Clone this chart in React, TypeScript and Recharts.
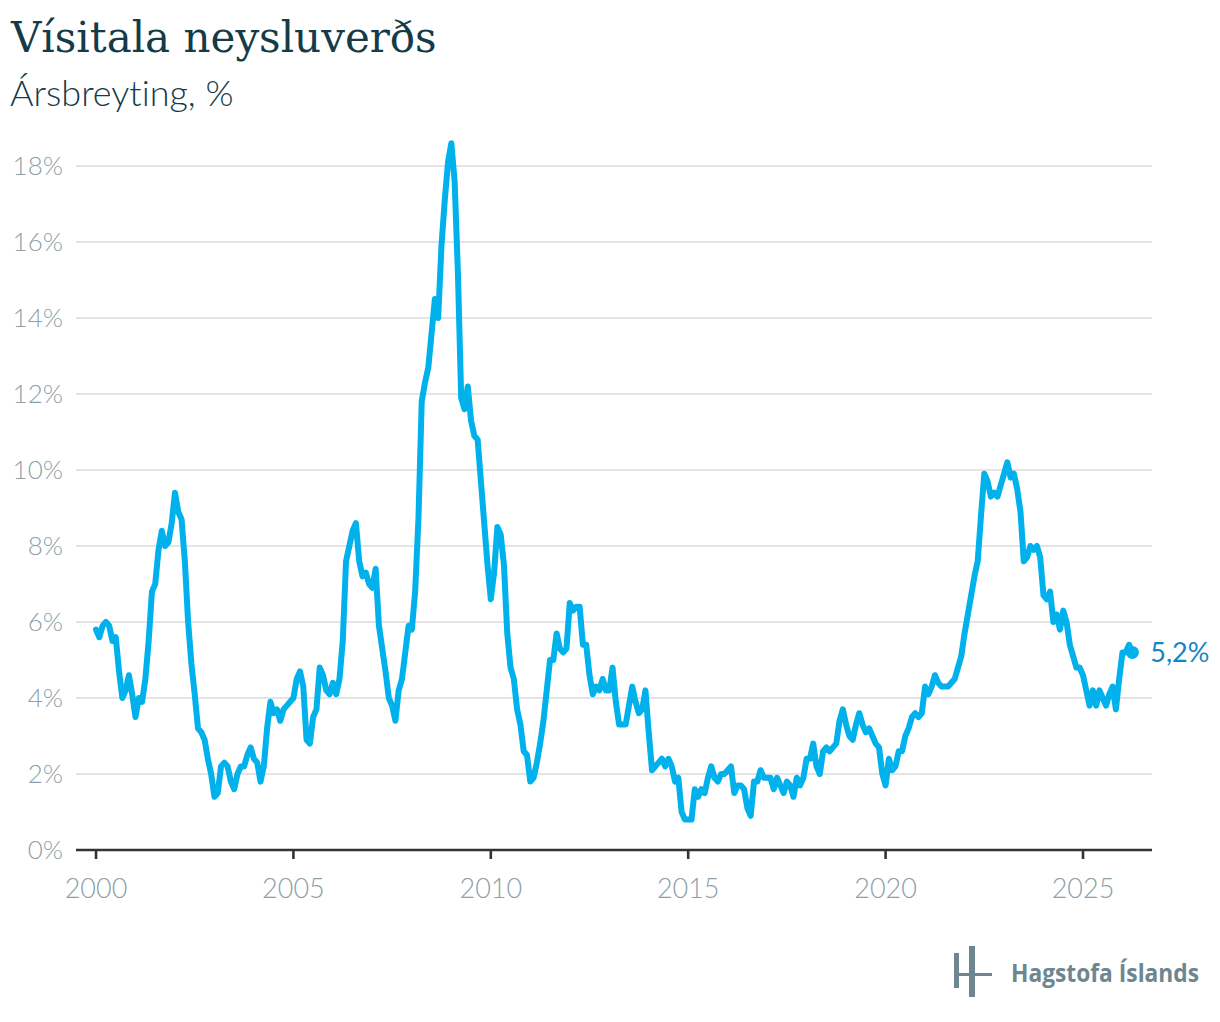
import React from 'react';
import { LineChart, Line, XAxis, YAxis, ReferenceLine } from 'recharts';

// Vísitala neysluverðs, ársbreyting (%), mánaðarleg gögn frá jan 2000
const START_YEAR = 2000;

const cpi2000to2004 = [
  5.8, 5.6, 5.9, 6.0, 5.9, 5.5, 5.6, 4.7, 4.0, 4.2, 4.6, 4.1,
  3.5, 4.0, 3.9, 4.5, 5.5, 6.8, 7.0, 7.9, 8.4, 8.0, 8.1, 8.6,
  9.4, 8.9, 8.7, 7.6, 6.0, 4.9, 4.1, 3.2, 3.1, 2.9, 2.4, 2.0,
  1.4, 1.5, 2.2, 2.3, 2.2, 1.8, 1.6, 2.0, 2.2, 2.2, 2.5, 2.7,
  2.4, 2.3, 1.8, 2.2, 3.2, 3.9, 3.6, 3.7, 3.4, 3.7, 3.8, 3.9,
];

const cpi2005to2009 = [
  4.0, 4.5, 4.7, 4.3, 2.9, 2.8, 3.5, 3.7, 4.8, 4.6, 4.2, 4.1,
  4.4, 4.1, 4.5, 5.5, 7.6, 8.0, 8.4, 8.6, 7.6, 7.2, 7.3, 7.0,
  6.9, 7.4, 5.9, 5.3, 4.7, 4.0, 3.8, 3.4, 4.2, 4.5, 5.2, 5.9,
  5.8, 6.8, 8.7, 11.8, 12.3, 12.7, 13.6, 14.5, 14.0, 15.9, 17.1, 18.1,
  18.6, 17.6, 15.2, 11.9, 11.6, 12.2, 11.3, 10.9, 10.8, 9.7, 8.6, 7.5,
];

const cpi2010to2014 = [
  6.6, 7.3, 8.5, 8.3, 7.5, 5.7, 4.8, 4.5, 3.7, 3.3, 2.6, 2.5,
  1.8, 1.9, 2.3, 2.8, 3.4, 4.2, 5.0, 5.0, 5.7, 5.3, 5.2, 5.3,
  6.5, 6.3, 6.4, 6.4, 5.4, 5.4, 4.6, 4.1, 4.3, 4.2, 4.5, 4.2,
  4.2, 4.8, 3.9, 3.3, 3.3, 3.3, 3.8, 4.3, 3.9, 3.6, 3.7, 4.2,
  3.1, 2.1, 2.2, 2.3, 2.4, 2.2, 2.4, 2.2, 1.8, 1.9, 1.0, 0.8,
];

const cpi2015to2019 = [
  0.8, 0.8, 1.6, 1.4, 1.6, 1.5, 1.9, 2.2, 1.9, 1.8, 2.0, 2.0,
  2.1, 2.2, 1.5, 1.7, 1.7, 1.6, 1.1, 0.9, 1.8, 1.8, 2.1, 1.9,
  1.9, 1.9, 1.6, 1.9, 1.7, 1.5, 1.8, 1.7, 1.4, 1.9, 1.7, 1.9,
  2.4, 2.4, 2.8, 2.2, 2.0, 2.6, 2.7, 2.6, 2.7, 2.8, 3.4, 3.7,
  3.3, 3.0, 2.9, 3.3, 3.6, 3.3, 3.1, 3.2, 3.0, 2.8, 2.7, 2.0,
];

const cpi2020to2026 = [
  1.7, 2.4, 2.1, 2.2, 2.6, 2.6, 3.0, 3.2, 3.5, 3.6, 3.5, 3.6,
  4.3, 4.1, 4.3, 4.6, 4.4, 4.3, 4.3, 4.3, 4.4, 4.5, 4.8, 5.1,
  5.7, 6.2, 6.7, 7.2, 7.6, 8.8, 9.9, 9.7, 9.3, 9.4, 9.3, 9.6,
  9.9, 10.2, 9.8, 9.9, 9.5, 8.9, 7.6, 7.7, 8.0, 7.9, 8.0, 7.7,
  6.7, 6.6, 6.8, 6.0, 6.2, 5.8, 6.3, 6.0, 5.4, 5.1, 4.8, 4.8,
  4.6, 4.2, 3.8, 4.2, 3.8, 4.2, 4.0, 3.8, 4.1, 4.3, 3.7, 4.5,
  5.2, 5.2, 5.4, 5.2,
];

const yearTicks = [2000, 2005, 2010, 2015, 2020, 2025];
const percentTicks = [0, 2, 4, 6, 8, 10, 12, 14, 16, 18];

const cpiValues = [
  ...cpi2000to2004,
  ...cpi2005to2009,
  ...cpi2010to2014,
  ...cpi2015to2019,
  ...cpi2020to2026,
];

const data = cpiValues.map((value, i) => ({ time: START_YEAR + i / 12, value }));

const LINE_COLOR = '#00b1eb';
const LABEL_COLOR = '#8d9fa7';
const TITLE_COLOR = '#143b47';
const LOGO_COLOR = '#6e8690';

const fmt = (v: number) => `${v.toFixed(1).replace('.', ',')}%`;

const YTick = (props: any) => {
  const { x, y, payload } = props;
  return (
    <text x={x} y={y} dy="0.36em" textAnchor="end" fill={LABEL_COLOR}
      style={{ fontFamily: 'Lato', fontWeight: 300, fontSize: 26 }}>
      {`${payload.value}%`}
    </text>
  );
};

const XTick = (props: any) => {
  const { x, y, payload } = props;
  return (
    <text x={x} y={y + 39} textAnchor="middle" fill={LABEL_COLOR}
      style={{ fontFamily: 'Lato', fontWeight: 300, fontSize: 27 }}>
      {payload.value}
    </text>
  );
};

const EndDot = (props: any) => {
  const { cx, cy, index } = props;
  if (index !== data.length - 1) return <g key={`d${index}`} />;
  return (
    <g key={`d${index}`}>
      <circle cx={cx} cy={cy} r={6.5} fill={LINE_COLOR} />
      <text x={cx + 18} y={cy} dy="0.36em" fill="#1585c6"
        style={{ fontFamily: 'Lato', fontWeight: 400, fontSize: 27 }}>
        {fmt(data[index].value)}
      </text>
    </g>
  );
};

export default function App() {
  return (
    <div style={{ position: 'absolute', left: 0, top: 0, width: 1220, height: 1022, background: '#fff' }}>
      <svg width={1220} height={1022} style={{ position: 'absolute', left: 0, top: 0 }}>
        <text x={11} y={52} fill={TITLE_COLOR}
          style={{ fontFamily: 'DejaVu Serif', fontSize: 42, fontWeight: 400 }}>
          Vísitala neysluverðs
        </text>
        <text x={10} y={106} fill={TITLE_COLOR}
          style={{ fontFamily: 'Lato', fontSize: 36, fontWeight: 300, fontVariantLigatures: 'none' }}>
          Ársbreyting, %
        </text>
        <g fill={LOGO_COLOR}>
          <rect x={954} y={953} width={5} height={35} />
          <rect x={969} y={946} width={6} height={51} />
          <rect x={954} y={973} width={38} height={3} />
          <text x={1011} y={982} textLength={188} lengthAdjust="spacingAndGlyphs"
            style={{ fontFamily: 'Open Sans', fontSize: 25, fontWeight: 700 }}>
            Hagstofa Íslands
          </text>
        </g>
      </svg>
      <div style={{ position: 'absolute', left: 0, top: 0 }}>
        <LineChart width={1220} height={1022} data={data}
          margin={{ top: 128, right: 68, bottom: 112, left: 0 }}>
          {percentTicks.filter((t) => t > 0).map((t) => (
            <ReferenceLine key={t} y={t} stroke="#e4e4e4" strokeWidth={2} />
          ))}
          <XAxis dataKey="time" type="number" domain={[1999.493, 2026.748]}
            ticks={yearTicks} height={60} tickSize={9} tickMargin={0}
            axisLine={{ stroke: '#333', strokeWidth: 2.6 }}
            tickLine={{ stroke: '#333', strokeWidth: 2.6 }}
            tick={<XTick />} interval={0} />
          <YAxis type="number" domain={[0, 19]} ticks={percentTicks} width={76}
            axisLine={false} tickLine={false} tickSize={0} tickMargin={13}
            tick={<YTick />} interval={0} />
          <Line type="linear" dataKey="value" stroke={LINE_COLOR} strokeWidth={6}
            strokeLinejoin="round" strokeLinecap="round"
            dot={EndDot} activeDot={false} isAnimationActive={false} />
        </LineChart>
      </div>
    </div>
  );
}
